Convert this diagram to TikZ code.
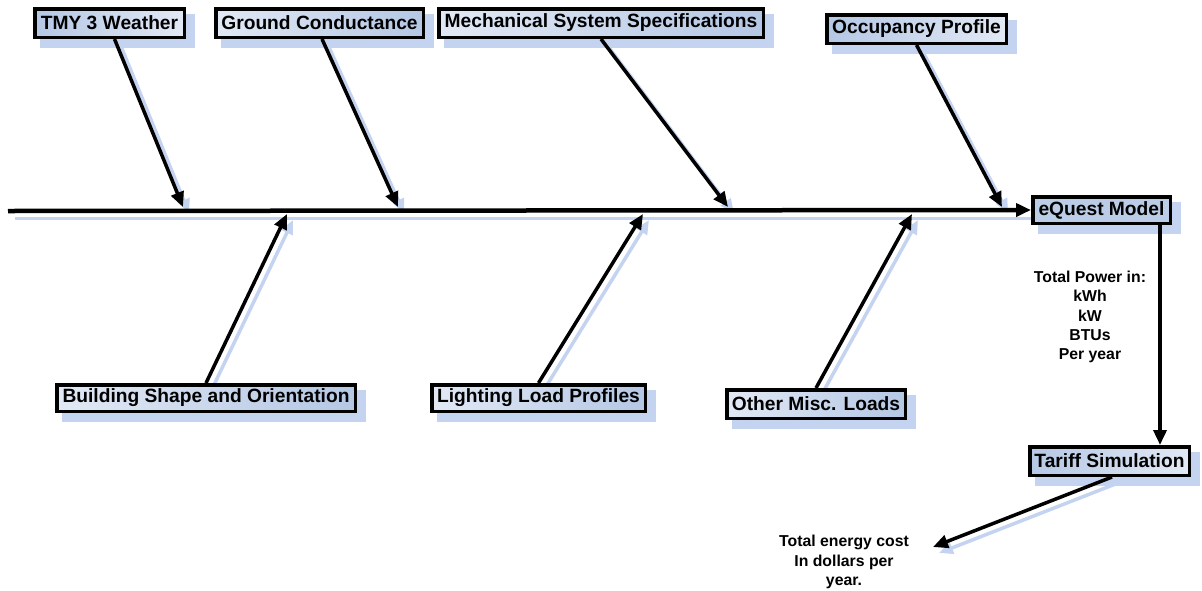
\documentclass[tikz,border=0pt]{standalone}
\usepackage{fontspec}
\setmainfont{Liberation Sans}
\usetikzlibrary{arrows.meta,calc}
\definecolor{shadowblue}{RGB}{196,211,240}
\definecolor{lightb}{RGB}{226,233,245}
\definecolor{darkb}{RGB}{180,199,228}
\definecolor{midb}{RGB}{186,204,230}
\pgfdeclarelayer{shadowlayer}
\pgfsetlayers{shadowlayer,main}
\tikzset{
  box/.style={draw=black, line width=3.5pt, inner sep=0pt, font=\fontsize{19.2}{22}\selectfont\bfseries},
  boxLR/.style={box, left color=lightb, right color=darkb},
  boxRL/.style={box, left color=darkb, right color=lightb},
  boxU/.style={box, fill=midb},
  arr/.style={line width=3.5pt, -{Triangle[length=15pt,width=13pt]}},
  sarr/.style={line width=3.5pt, draw=shadowblue, -{Triangle[length=14pt,width=12pt]}},
  lbl/.style={align=center, font=\fontsize{15.8}{19.3}\selectfont\bfseries, inner sep=0pt},
}
\begin{document}
\begin{tikzpicture}[x=1pt,y=-1pt]
\useasboundingbox (0,0) rectangle (1202,590);
% boxes
\node[boxRL, minimum width=149.5, minimum height=28.5] (tmy) at (109.5,23) {TMY 3 Weather};
\node[boxLR, minimum width=207.5, minimum height=28.5] (ground) at (319.5,23) {Ground Conductance};
\node[boxLR, minimum width=324.5, minimum height=28.5] (mech) at (601,23) {Mechanical System Specifications};
\node[boxRL, minimum width=179.5, minimum height=28.5] (occ) at (916.5,29) {Occupancy Profile};
\node[boxU, minimum width=137.5, minimum height=26.5] (eq) at (1101.5,210) {eQuest Model};
\node[boxLR, minimum width=298.5, minimum height=26.5] (bld) at (206,398) {Building Shape and Orientation};
\node[boxLR, minimum width=213.5, minimum height=26.5] (light) at (538.5,398) {Lighting Load Profiles};
\node[boxLR, minimum width=178.5, minimum height=28.5] (other) at (816,404) {Other Misc. Loads};
\node[boxRL, minimum width=159.5, minimum height=28.5] (tariff) at (1109.5,461) {Tariff Simulation};
% labels
\node[lbl] (power) at (1090,317) {Total Power in:\\kWh\\kW\\BTUs\\Per year};
\node[lbl] (cost) at (844,562) {Total energy cost\\In dollars per\\year.};
% coordinates
\coordinate (spineL) at (8,211);
\coordinate (t1) at (183,207);
\coordinate (t2) at (398,207);
\coordinate (t3) at (728,207);
\coordinate (t4) at (1002,207);
\coordinate (b1) at (287,214);
\coordinate (b2) at (643,214);
\coordinate (b3) at (912,214);
\coordinate (costtip) at (933,547);
% shadows
\begin{pgfonlayer}{shadowlayer}
\foreach \n in {tmy,ground,mech,occ,eq,bld,light,other,tariff}{
  \fill[shadowblue] ($(\n.south west)+(7,9)$) rectangle ($(\n.north east)+(9,7)$);
}
\draw[line width=3pt, draw=shadowblue] ($(spineL)+(7,7)$) -- ($(eq.west)+(7,8)$);
\draw[sarr] ($([xshift=5]tmy.south)+(6,6)$) -- ($(t1)+(6,6)$);
\draw[sarr] ($([xshift=2.5]ground.south)+(6,6)$) -- ($(t2)+(6,6)$);
\draw[sarr] ($(mech.south)+(6,6)$) -- ($(t3)+(6,6)$);
\draw[sarr] ($(occ.south)+(6,6)$) -- ($(t4)+(6,6)$);
\draw[sarr] ($(bld.north)+(6,6)$) -- ($(b1)+(6,6)$);
\draw[sarr] ($(light.north)+(6,6)$) -- ($(b2)+(6,6)$);
\draw[sarr] ($(other.north)+(6,6)$) -- ($(b3)+(6,6)$);
\draw[sarr] ($([xshift=2.5]tariff.south)+(6,6)$) -- ($(costtip)+(6,6)$);
\end{pgfonlayer}
% connectors
\draw[arr, line width=4.5pt] (spineL) -- (eq.west);
\draw[arr] ([xshift=5]tmy.south) -- (t1);
\draw[arr] ([xshift=2.5]ground.south) -- (t2);
\draw[arr] (mech.south) -- (t3);
\draw[arr] (occ.south) -- (t4);
\draw[arr] (bld.north) -- (b1);
\draw[arr] (light.north) -- (b2);
\draw[arr] (other.north) -- (b3);
\draw[arr] ([xshift=58.5]eq.south) -- ([xshift=50.5]tariff.north);
\draw[arr] ([xshift=2.5]tariff.south) -- (costtip);
\end{tikzpicture}
\end{document}
